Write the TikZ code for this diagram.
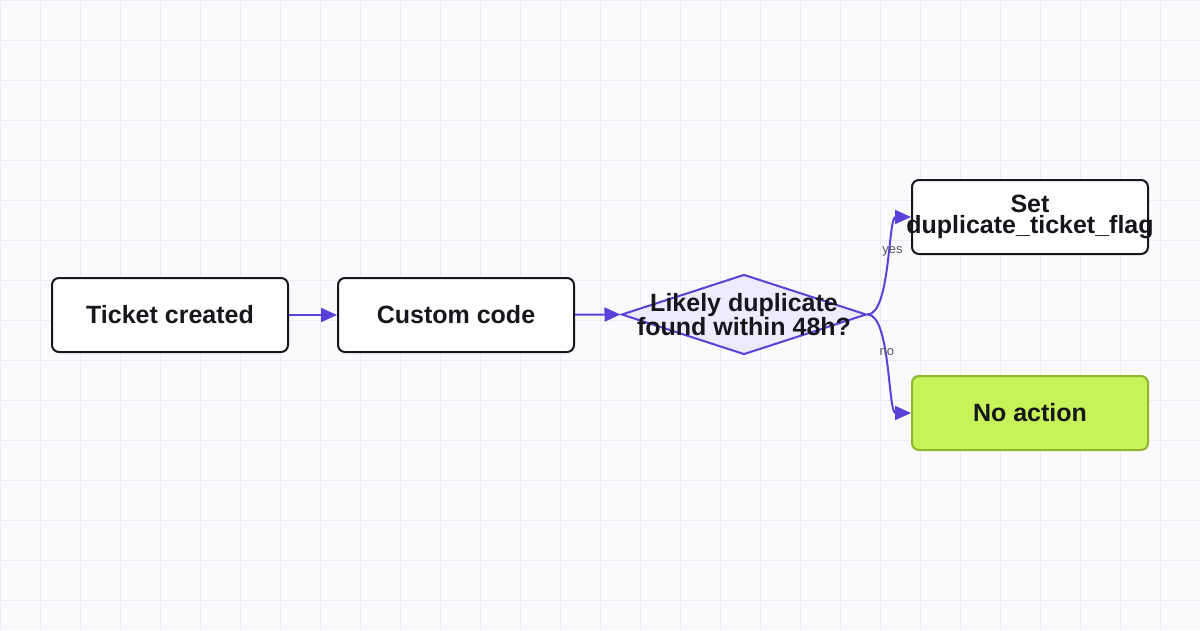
\documentclass[tikz,border=0pt]{standalone}
\usepackage{fontspec}
\setmainfont{Liberation Sans}
\usetikzlibrary{positioning, shapes.geometric, arrows.meta}
\definecolor{myink}{RGB}{22,22,29}
\definecolor{mypurple}{RGB}{91,64,217}
\definecolor{mylilac}{RGB}{239,235,253}
\definecolor{mylime}{RGB}{200,242,90}
\definecolor{myolive}{RGB}{142,181,43}
\definecolor{mygrid}{RGB}{236,234,247}
\definecolor{mypaper}{RGB}{250,250,252}
\definecolor{mygrey}{RGB}{85,85,96}
\tikzset{
  stepbox/.style={draw=myink, line width=2pt, rounded corners=7pt, fill=white,
    minimum width=236pt, minimum height=74pt, inner sep=0, text=myink,
    font=\bfseries\fontsize{25}{21}\selectfont, align=center},
  donebox/.style={stepbox, draw=myolive, fill=mylime},
  decision/.style={shape=diamond, draw=mypurple, line width=2pt, fill=mylilac,
    minimum width=245pt, minimum height=80pt, inner sep=0},
  dtext/.style={text=myink, font=\bfseries\fontsize{25}{21}\selectfont,
    align=center, inner sep=0},
  flow/.style={draw=mypurple, line width=2pt, -{Triangle[length=16pt,width=14pt]}},
  edgelabel/.style={text=mygrey, font=\fontsize{13}{13}\selectfont, inner sep=1pt},
  gridline/.style={draw=mygrid, line width=1pt}
}

\begin{document}
\begin{tikzpicture}[x=1pt, y=-1pt]
\useasboundingbox (0,0) rectangle (1200,630);
%background
\fill[mypaper] (0,0) rectangle (1200,630);
\foreach \gx in {0,40,...,1200} \draw[gridline] (\gx,0) -- (\gx,630);
\foreach \gy in {0,40,...,600} \draw[gridline] (0,\gy) -- (1200,\gy);

\node [stepbox] (created) at (170,315) {Ticket created};
\node [stepbox] (custom) at (456,315) {Custom code};
\node [decision] (check) at (744,314.5) {};
\node [dtext] (checktext) at (check) {Likely duplicate\\found within 48h?};
\node [stepbox] (flag) at (1030,217) {Set\\\makebox[0pt]{duplicate\_ticket\_flag}};
\node [donebox] (noaction) at (1030,413) {No action};

\draw[flow] (created) -- (custom);
\draw[flow] (custom) -- (check.west);
\draw[flow] (check.east) to[out=0,in=180,looseness=0.55] node[edgelabel,pos=0.6] {yes} (flag.west);
\draw[flow] (check.east) to[out=0,in=180,looseness=0.55] node[edgelabel,pos=0.42] {no} (noaction.west);

\end{tikzpicture}
\end{document}
